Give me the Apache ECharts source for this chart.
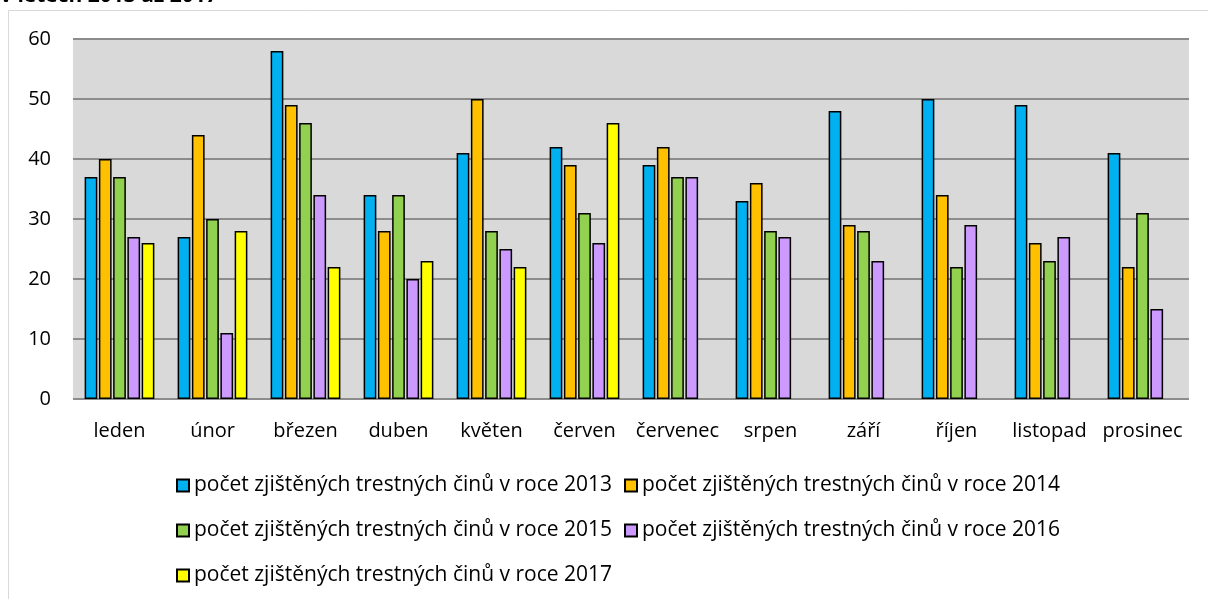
<!DOCTYPE html>
<html>
<head>
<meta charset="utf-8">
<script src="https://cdn.jsdelivr.net/npm/echarts@6/dist/echarts.min.js"></script>
<style>
  html, body { margin: 0; padding: 0; background: #fff; }
  #chart { width: 1208px; height: 599px; }
</style>
</head>
<body>
<div id="chart"></div>
<script>
// Měsíce (kategorie osy x)
const months = ['leden', 'únor', 'březen', 'duben', 'květen', 'červen', 'červenec', 'srpen', 'září', 'říjen', 'listopad', 'prosinec'];

// Počty zjištěných trestných činů po měsících
const y2013 = [37, 27, 58, 34, 41, 42, 39, 33, 48, 50, 49, 41];
const y2014 = [40, 44, 49, 28, 50, 39, 42, 36, 29, 34, 26, 22];
const y2015 = [37, 30, 46, 34, 28, 31, 37, 28, 28, 22, 23, 31];
const y2016 = [27, 11, 34, 20, 25, 26, 37, 27, 23, 29, 27, 15];
const y2017 = [26, 28, 22, 23, 22, 46, null, null, null, null, null, null];

const seriesNames = [
  'počet zjištěných trestných činů v roce 2013',
  'počet zjištěných trestných činů v roce 2014',
  'počet zjištěných trestných činů v roce 2015',
  'počet zjištěných trestných činů v roce 2016',
  'počet zjištěných trestných činů v roce 2017'
];
const seriesData = [y2013, y2014, y2015, y2016, y2017];
const colors = ['#00B0F0', '#FFC000', '#92D050', '#CC99FF', '#FFFF00'];

const FONT = '"Open Sans"';

const chart = echarts.init(document.getElementById('chart'), null, { renderer: 'canvas' });

// Legenda ve třech řádcích, položky zarovnané vlevo
const legendBase = {
  orient: 'horizontal',
  left: 176,
  padding: 0,
  icon: 'rect',
  itemWidth: 12,
  itemHeight: 12,
  itemGap: 12,
  textStyle: { fontFamily: FONT, fontSize: 21, color: '#000' },
  selectedMode: false
};

chart.setOption({
  animation: false,
  color: colors,
  graphic: [
    {
      type: 'rect',
      shape: { x: 8.5, y: 10.5, width: 1300, height: 700 },
      style: { fill: null, stroke: '#d9d9d9', lineWidth: 1 },
      silent: true
    },
    {
      type: 'text',
      x: 0,
      y: -4,
      style: {
        text: 'v letech 2013 až 2017',
        fontFamily: FONT,
        fontWeight: 'bold',
        fontSize: 21,
        fill: '#000',
        verticalAlign: 'middle'
      },
      silent: true
    }
  ],
  grid: {
    left: 73,
    right: 19,
    top: 39,
    bottom: 200,
    show: true,
    backgroundColor: '#D9D9D9',
    borderWidth: 0
  },
  legend: [
    Object.assign({}, legendBase, { top: 475, data: [seriesNames[0], seriesNames[1]] }),
    Object.assign({}, legendBase, { top: 520, data: [seriesNames[2], seriesNames[3]] }),
    Object.assign({}, legendBase, { top: 565, data: [seriesNames[4]] })
  ],
  xAxis: {
    type: 'category',
    data: months,
    axisLine: { show: false },
    axisTick: { show: false },
    axisLabel: { fontFamily: FONT, fontSize: 20, color: '#000', margin: 22, interval: 0 }
  },
  yAxis: {
    type: 'value',
    min: 0,
    max: 60,
    interval: 10,
    axisLine: { show: false },
    axisTick: { show: false },
    axisLabel: { fontFamily: FONT, fontSize: 20, color: '#000', margin: 22 },
    splitLine: { lineStyle: { color: '#8C8C8C', width: 2 } }
  },
  series: seriesNames.map((name, i) => ({
    name: name,
    type: 'bar',
    data: seriesData[i],
    barCategoryGap: '25%',
    barGap: '12%',
    itemStyle: { color: colors[i], borderColor: '#000', borderWidth: 1.5 }
  }))
});
</script>
</body>
</html>
